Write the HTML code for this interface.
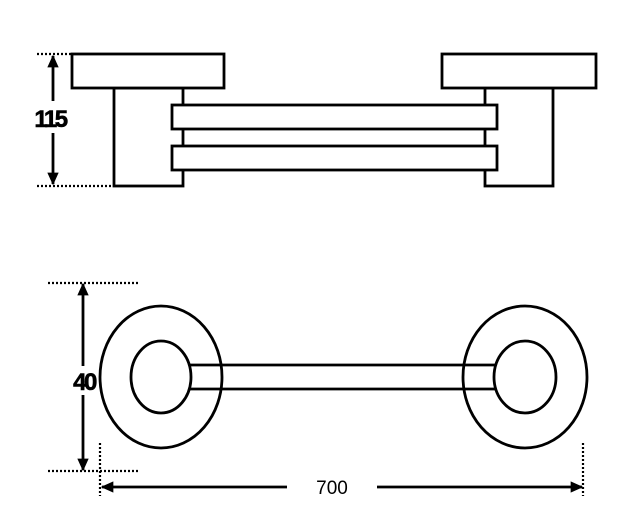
<!DOCTYPE html>
<html><head><style>html,body{margin:0;padding:0;background:#fff}svg{display:block}</style></head>
<body>
<svg width="629" height="532" viewBox="0 0 629 532" xmlns="http://www.w3.org/2000/svg">
<defs>
<marker id="a" viewBox="0 0 10 10" refX="9" refY="5" markerWidth="4.5" markerHeight="4.5" markerUnits="strokeWidth" orient="auto-start-reverse"><path d="M0,0.5L10,5L0,9.5z" fill="#000"/></marker>
</defs>
<g fill="#fff" stroke="#000" stroke-width="2.8">
<rect x="114" y="88" width="69" height="98"/>
<rect x="485" y="88" width="68" height="98"/>
<rect x="72" y="54" width="152" height="34"/>
<rect x="442" y="54" width="154" height="34"/>
<rect x="172" y="105" width="325" height="24"/>
<rect x="172" y="146" width="325" height="24"/>
</g>
<g stroke="#000" stroke-width="2.2" stroke-dasharray="2,2">
<line x1="37" y1="54" x2="72" y2="54"/>
<line x1="37" y1="186" x2="112" y2="186"/>
<line x1="48" y1="283" x2="140" y2="283"/>
<line x1="48" y1="471" x2="140" y2="471"/>
<line x1="100" y1="443" x2="100" y2="496"/>
<line x1="583" y1="443" x2="583" y2="496"/>
</g>
<g stroke="#000" stroke-width="2.8" fill="none">
<line x1="53" y1="101" x2="53" y2="56" marker-end="url(#a)"/>
<line x1="53" y1="133" x2="53" y2="184" marker-end="url(#a)"/>
<line x1="83" y1="366" x2="83" y2="284" marker-end="url(#a)"/>
<line x1="83" y1="395" x2="83" y2="470" marker-end="url(#a)"/>
<line x1="287" y1="487" x2="102" y2="487" marker-end="url(#a)"/>
<line x1="377" y1="487" x2="582" y2="487" marker-end="url(#a)"/>
<ellipse cx="161" cy="377" rx="61" ry="71"/>
<ellipse cx="525" cy="377" rx="62" ry="71"/>
<ellipse cx="161" cy="377" rx="30" ry="36"/>
<ellipse cx="525" cy="377" rx="31" ry="36"/>
<line x1="190" y1="365" x2="495" y2="365"/>
<line x1="190" y1="389" x2="495" y2="389"/>
</g>
<text x="50" y="127" font-family="Liberation Sans, sans-serif" font-weight="bold" font-size="24" text-anchor="middle" letter-spacing="-2.5" stroke="#000" stroke-width="0.6">115</text>
<text x="84" y="390" font-family="Liberation Sans, sans-serif" font-weight="bold" font-size="24" text-anchor="middle" letter-spacing="-2.5" stroke="#000" stroke-width="0.6">40</text>
<text x="332" y="494" font-family="Liberation Sans, sans-serif" font-size="19" text-anchor="middle">700</text>
</svg>
</body></html>
